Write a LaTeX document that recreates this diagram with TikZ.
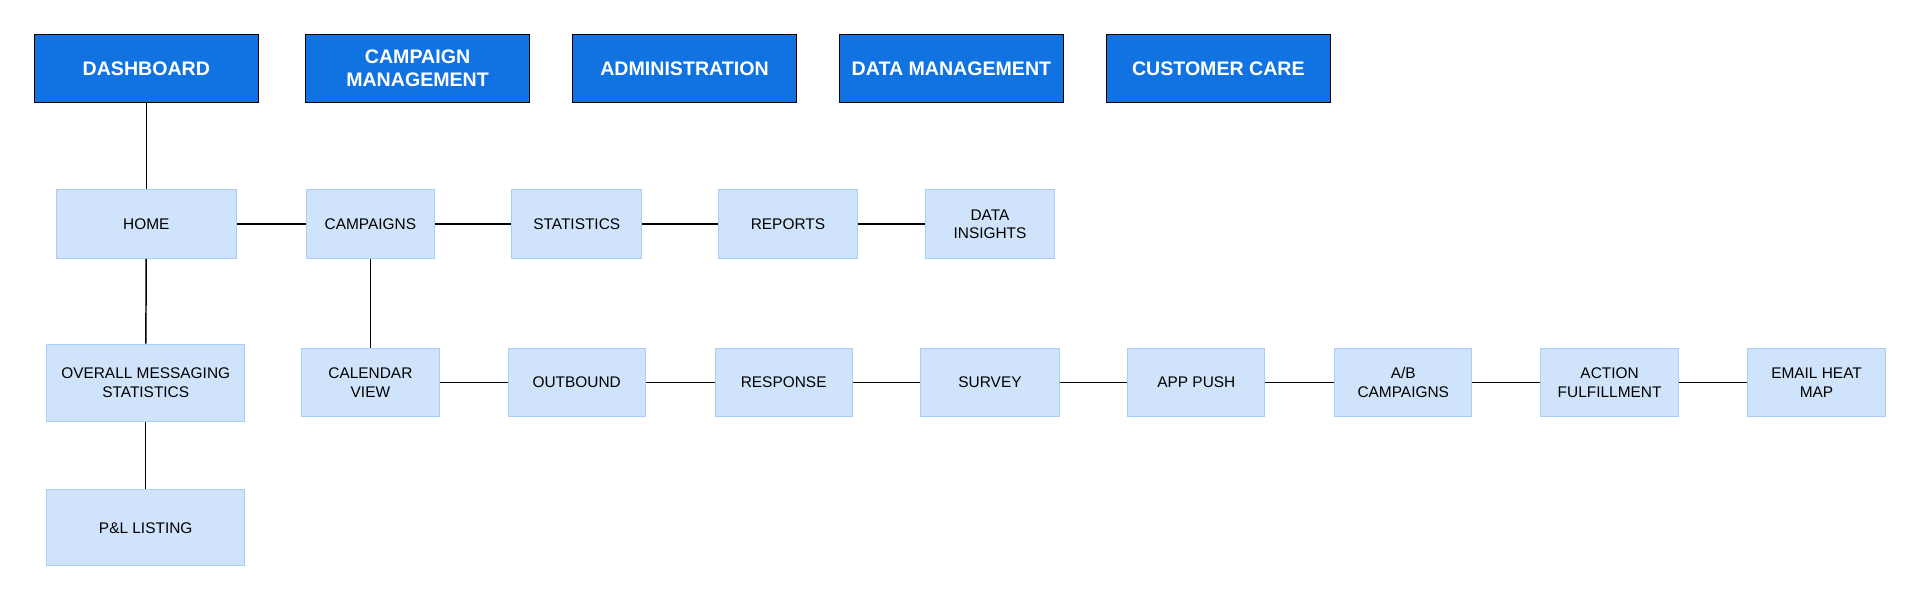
\documentclass[tikz,border=0pt]{standalone}
\usepackage{fontspec}
\setmainfont{Liberation Sans}
\usetikzlibrary{positioning}
\definecolor{topblue}{HTML}{1172E2}
\definecolor{pagefill}{HTML}{CFE3FB}
\definecolor{pageline}{HTML}{A9CEF6}
\tikzset{
  section/.style = {draw = black, fill = topblue, text = white, font = \bfseries\fontsize{8}{9.5}\selectfont,
    align = center, minimum width = 91.5pt, minimum height = 28pt, inner sep = 1pt},
  page/.style = {draw = pageline, fill = pagefill, font = \fontsize{6.3}{7.6}\selectfont,
    align = center, minimum height = 28pt, inner sep = 1pt},
  link/.style = {draw = black, line width = .6pt}
}
\begin{document}
\begin{tikzpicture}[x = .5pt, y = -.5pt]
  \useasboundingbox (0,0) rectangle (1568,491);
  % top sections
  \node[section] (dash) at (119.5,56) {DASHBOARD};
  \node[section] (camp) at (341,56) {CAMPAIGN\\MANAGEMENT};
  \node[section] (admin) at (559,56) {ADMINISTRATION};
  \node[section] (data) at (777,56) {DATA MANAGEMENT};
  \node[section] (care) at (995,56) {CUSTOMER CARE};
  % second row
  \node[page, minimum width = 73.5pt] (home) at (119.5,183) {HOME};
  \node[page, minimum width = 52.5pt] (camps) at (302.5,183) {CAMPAIGNS};
  \node[page, minimum width = 53pt] (stats) at (471,183) {STATISTICS};
  \node[page, minimum width = 56.5pt] (reports) at (643.5,183) {REPORTS};
  \node[page, minimum width = 52.5pt] (insights) at (808.5,183) {DATA\\INSIGHTS};
  % third row
  \node[page, minimum width = 81pt, minimum height = 31.5pt] (overall) at (119,312.5) {OVERALL MESSAGING\\STATISTICS};
  \node[page, minimum width = 81pt, minimum height = 31pt] (pnl) at (119,431) {P\&L LISTING};
  \node[page, minimum width = 56.5pt] (calendar) at (302.5,312.5) {CALENDAR\\VIEW};
  \node[page, minimum width = 56pt] (outbound) at (471,312.5) {OUTBOUND};
  \node[page, minimum width = 56pt] (response) at (640,312.5) {RESPONSE};
  \node[page, minimum width = 56.5pt] (survey) at (808.5,312.5) {SURVEY};
  \node[page, minimum width = 56pt] (push) at (977,312.5) {APP PUSH};
  \node[page, minimum width = 56pt] (ab) at (1146,312.5) {A/B\\CAMPAIGNS};
  \node[page, minimum width = 56.5pt] (action) at (1314.5,312.5) {ACTION\\FULFILLMENT};
  \node[page, minimum width = 56.5pt] (heat) at (1483.5,312.5) {EMAIL HEAT\\MAP};
  % connectors
  \draw[link] (dash) -- (home);
  \draw[link] (home) -- (overall);
  \draw[link] (overall) -- (pnl);
  \draw[link] (home) -- (camps);
  \draw[link] (camps) -- (stats);
  \draw[link] (stats) -- (reports);
  \draw[link] (reports) -- (insights);
  \draw[link] (camps) -- (calendar);
  \draw[link] (calendar) -- (outbound);
  \draw[link] (outbound) -- (response);
  \draw[link] (response) -- (survey);
  \draw[link] (survey) -- (push);
  \draw[link] (push) -- (ab);
  \draw[link] (ab) -- (action);
  \draw[link] (action) -- (heat);
\end{tikzpicture}
\end{document}
